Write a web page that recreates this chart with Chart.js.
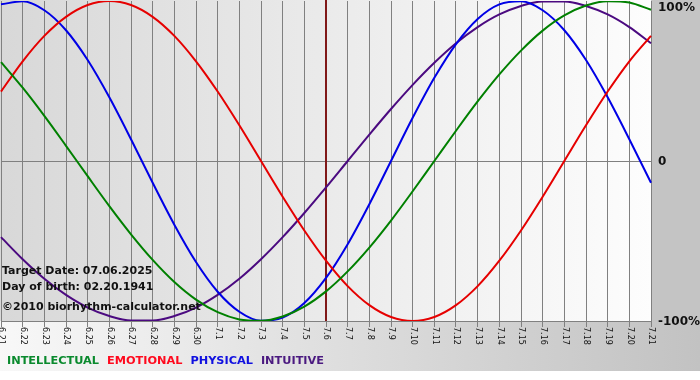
<!DOCTYPE html>
<html>
<head>
<meta charset="utf-8">
<script src="https://cdn.jsdelivr.net/npm/chart.js@4/dist/chart.umd.min.js"></script>
<style>
html,body{margin:0;padding:0;background:#fff;}
#c{display:block;}
</style>
</head>
<body>
<canvas id="c" width="700" height="380"></canvas>
<script>
const days = ['6.21','6.22','6.23','6.24','6.25','6.26','6.27','6.28','6.29','6.30',
  '7.1','7.2','7.3','7.4','7.5','7.6','7.7','7.8','7.9','7.10','7.11','7.12','7.13',
  '7.14','7.15','7.16','7.17','7.18','7.19','7.20','7.21'];
const intellectual = [0.618,0.458,0.282,0.095,-0.095,-0.282,-0.458,-0.618,-0.756,-0.866,-0.945,-0.990,-0.999,-0.972,-0.910,-0.815,-0.690,-0.541,-0.372,-0.189,0.000,0.189,0.372,0.541,0.690,0.815,0.910,0.972,0.999,0.990,0.945];
const emotional = [0.434,0.623,0.782,0.901,0.975,1.000,0.975,0.901,0.782,0.623,0.434,0.223,0.000,-0.223,-0.434,-0.623,-0.782,-0.901,-0.975,-1.000,-0.975,-0.901,-0.782,-0.623,-0.434,-0.223,0.000,0.223,0.434,0.623,0.782];
const physical = [0.979,0.998,0.942,0.817,0.631,0.398,0.136,-0.136,-0.398,-0.631,-0.817,-0.942,-0.998,-0.979,-0.888,-0.731,-0.520,-0.270,0.000,0.270,0.520,0.731,0.888,0.979,0.998,0.942,0.817,0.631,0.398,0.136,-0.136];
const intuitive = [-0.476,-0.614,-0.736,-0.837,-0.916,-0.969,-0.997,-0.997,-0.969,-0.916,-0.837,-0.736,-0.614,-0.476,-0.325,-0.165,0.000,0.165,0.325,0.476,0.614,0.736,0.837,0.916,0.969,0.997,0.997,0.969,0.916,0.837,0.736];
const yTickValues = [1, 0, -1];
const yTickLabels = ['100%', '0', '-100%'];
const targetDay = '7.6';
const infoLines = ['Target Date: 07.06.2025', 'Day of birth: 02.20.1941', '\u00a92010 biorhythm-calculator.net'];
const legendNames = ['INTELLECTUAL', 'EMOTIONAL', 'PHYSICAL', 'INTUITIVE'];

const lineColors = ['#008000', '#e60000', '#0000e6', '#4b0a80'];
const legendColors = ['#0a8a2e', '#ff0a1e', '#1010e0', '#4b1a80'];
const FONT = '"DejaVu Sans", Verdana, sans-serif';

const decor = {
  id: 'decor',
  beforeDraw(chart) {
    const ctx = chart.ctx, a = chart.chartArea;
    ctx.save();
    ctx.fillStyle = '#ffffff';
    ctx.fillRect(0, 0, chart.width, chart.height);
    const bg = ctx.createLinearGradient(0, 0, chart.width, 0);
    bg.addColorStop(0, '#f8f8f8');
    bg.addColorStop(1, '#c2c2c2');
    ctx.fillStyle = bg;
    ctx.fillRect(0, a.bottom, chart.width, 371 - a.bottom);
    ctx.fillStyle = '#c4c4c4';
    ctx.fillRect(a.right, 0, chart.width - a.right, a.bottom);
    const pg = ctx.createLinearGradient(a.left, 0, a.right, 0);
    pg.addColorStop(0, '#d8d8d8');
    pg.addColorStop(1, '#fdfdfd');
    ctx.fillStyle = pg;
    ctx.fillRect(0, 0, a.right, a.bottom);
    ctx.restore();
  },
  beforeDatasetsDraw(chart) {
    const ctx = chart.ctx, a = chart.chartArea;
    const xs = chart.scales.x;
    const x = xs.getPixelForValue(days.indexOf(targetDay));
    ctx.save();
    ctx.strokeStyle = '#801818';
    ctx.lineWidth = 2;
    ctx.beginPath();
    ctx.moveTo(x, a.top - 1);
    ctx.lineTo(x, a.bottom);
    ctx.stroke();
    ctx.restore();
  },
  afterDraw(chart) {
    const ctx = chart.ctx, a = chart.chartArea;
    const xs = chart.scales.x, ys = chart.scales.y;
    ctx.save();
    ctx.font = '8px ' + FONT;
    ctx.fillStyle = '#111';
    ctx.textAlign = 'left';
    ctx.textBaseline = 'middle';
    days.forEach((d, i) => {
      const x = xs.getPixelForTick(i);
      ctx.save();
      ctx.translate(x + 0.5, a.bottom + 6);
      ctx.rotate(Math.PI / 2);
      ctx.fillText(d, 0, 0);
      ctx.restore();
    });
    ctx.font = 'bold 12px ' + FONT;
    ctx.fillStyle = '#111';
    yTickValues.forEach((v, i) => {
      let y = ys.getPixelForValue(v);
      if (y < 7) y = 7;
      ctx.fillText(yTickLabels[i], a.right + 7, y + 1);
    });
    ctx.font = 'bold 11px ' + FONT;
    ctx.fillStyle = '#111';
    const infoY = [271, 287, 307];
    infoLines.forEach((t, i) => ctx.fillText(t, 2, infoY[i]));
    ctx.font = 'bold 11.3px ' + FONT;
    let lx = 7;
    legendNames.forEach((n, i) => {
      ctx.fillStyle = legendColors[i];
      ctx.fillText(n, lx, 361);
      lx += ctx.measureText(n).width + 8;
    });
    ctx.restore();
  }
};

new Chart(document.getElementById('c'), {
  type: 'line',
  data: {
    labels: days,
    datasets: [
      { label: legendNames[0], data: intellectual, borderColor: lineColors[0] },
      { label: legendNames[1], data: emotional, borderColor: lineColors[1] },
      { label: legendNames[2], data: physical, borderColor: lineColors[2] },
      { label: legendNames[3], data: intuitive, borderColor: lineColors[3] }
    ]
  },
  options: {
    responsive: false,
    devicePixelRatio: 1,
    animation: false,
    layout: { padding: { top: 1, left: 1, right: 49, bottom: 53 } },
    elements: {
      line: { borderWidth: 2, cubicInterpolationMode: 'monotone', fill: false },
      point: { radius: 0 }
    },
    plugins: { legend: { display: false }, tooltip: { enabled: false } },
    scales: {
      x: {
        offset: false,
        ticks: { display: false },
        grid: { color: '#808080', lineWidth: 1, drawTicks: true, tickLength: 6 },
        border: { display: true, color: '#808080', width: 1 }
      },
      y: {
        min: -1, max: 1,
        ticks: { display: false, stepSize: 1 },
        grid: {
          drawTicks: false,
          color: (c) => (c.tick && c.tick.value === 1) ? 'rgba(0,0,0,0)' : '#808080',
          lineWidth: 1
        },
        border: { display: false }
      }
    }
  },
  plugins: [decor]
});
</script>
</body>
</html>
